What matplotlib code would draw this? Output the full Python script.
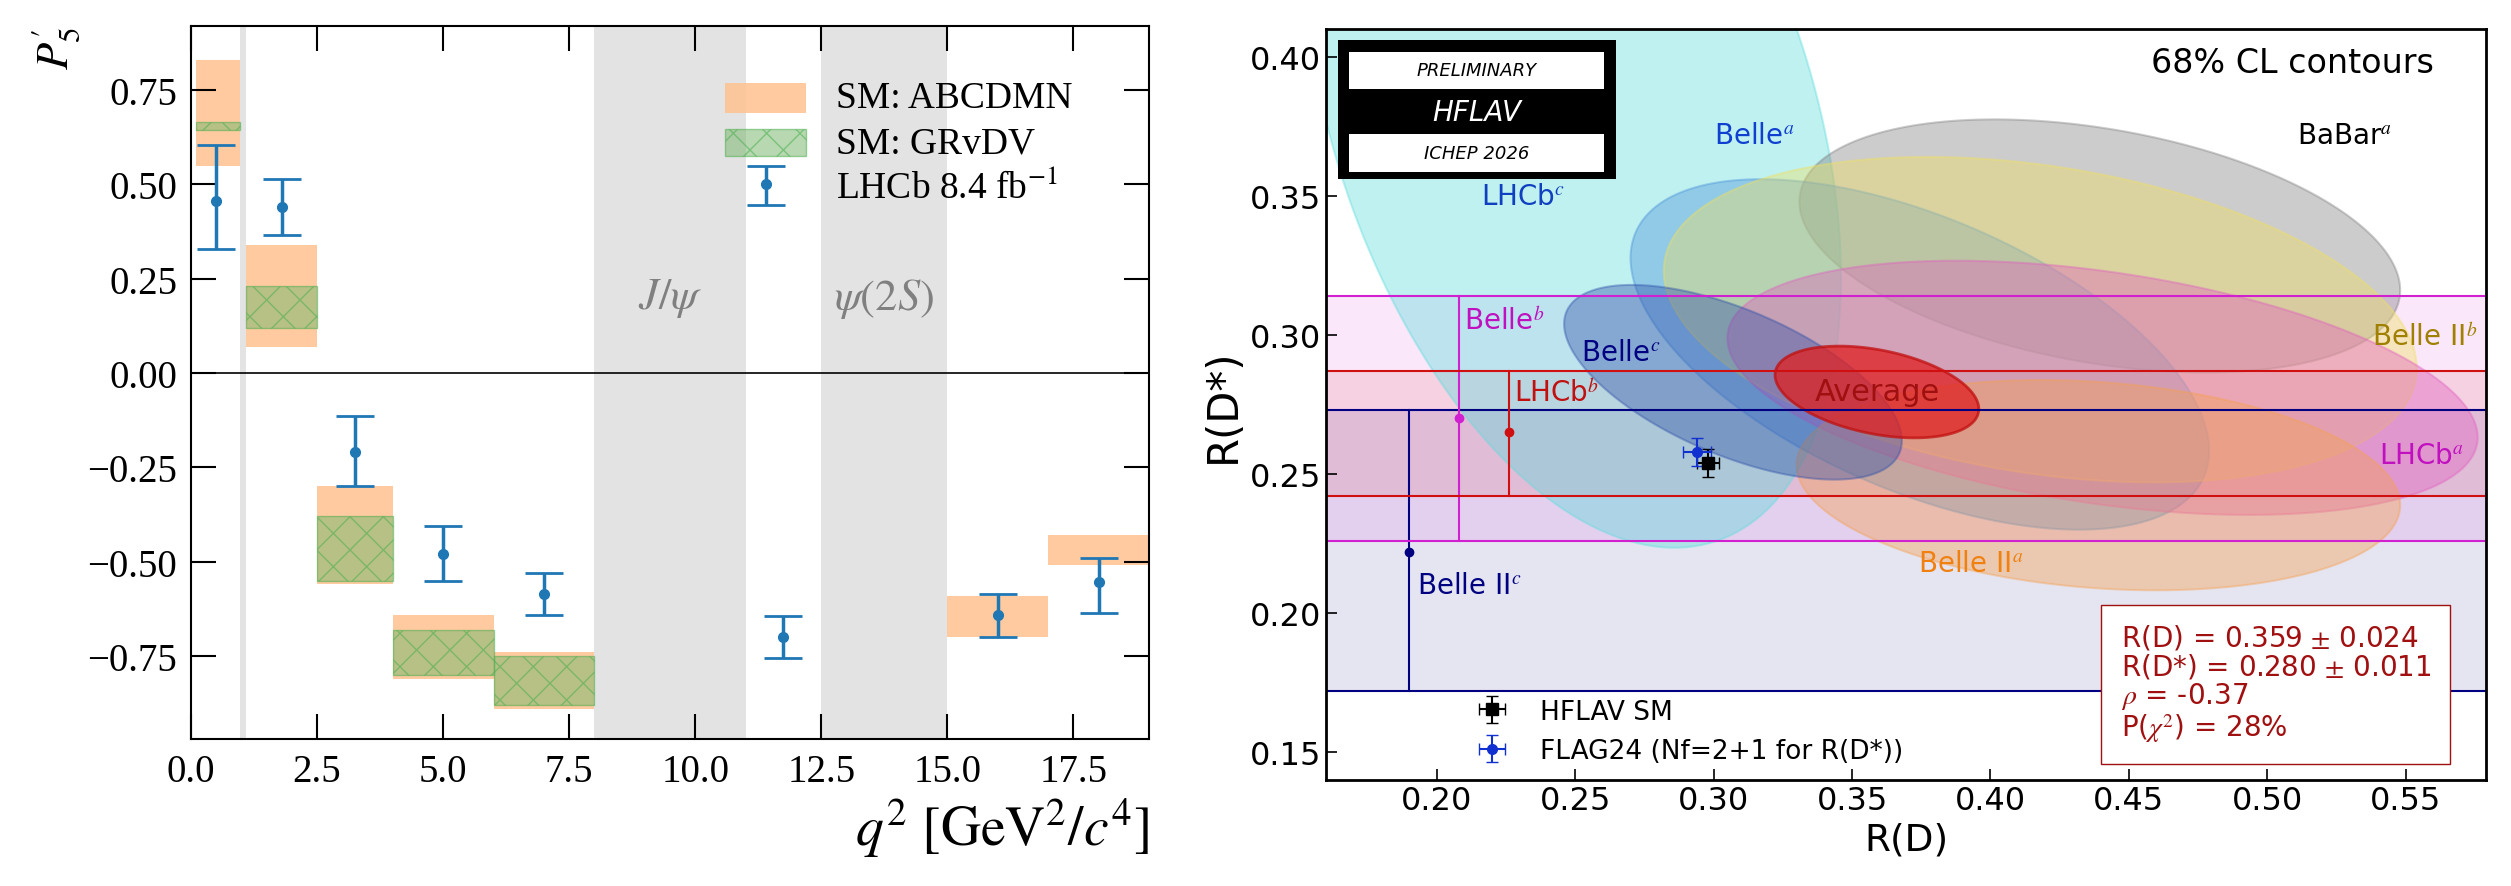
import numpy as np
import matplotlib
matplotlib.use("Agg")
import matplotlib.pyplot as plt
from matplotlib.patches import Rectangle, Polygon

plt.rcParams["mathtext.fontset"] = "stix"

# ---- left panel data: P5' vs q2 ----
abcdmn_bins = [(0.1, 0.98), (1.1, 2.5), (2.5, 4.0), (4.0, 6.0), (6.0, 8.0), (15.0, 17.0), (17.0, 19.0)]
abcdmn_lo = [0.55, 0.07, -0.56, -0.81, -0.89, -0.70, -0.51]
abcdmn_hi = [0.83, 0.34, -0.30, -0.64, -0.74, -0.59, -0.43]
grvdv_bins = [(0.1, 0.98), (1.1, 2.5), (2.5, 4.0), (4.0, 6.0), (6.0, 8.0)]
grvdv_lo = [0.645, 0.12, -0.55, -0.80, -0.88]
grvdv_hi = [0.665, 0.23, -0.38, -0.68, -0.75]
lhcb_q2 = [0.5, 1.8, 3.25, 5.0, 7.0, 11.75, 16.0, 18.0]
lhcb_p5 = [0.455, 0.44, -0.21, -0.48, -0.585, -0.70, -0.64, -0.555]
lhcb_up = [0.15, 0.075, 0.095, 0.075, 0.055, 0.055, 0.055, 0.065]
lhcb_dn = [0.125, 0.075, 0.09, 0.07, 0.055, 0.055, 0.06, 0.08]
veto_bands = [(0.98, 1.1), (8.0, 11.0), (12.5, 15.0)]

# ---- right panel data: R(D) vs R(D*) ----
# name, cx, sx, cy, sy, rho, colour
ellipses = [
    ("LHCb$^c$", 0.249, 0.097, 0.380, 0.1565, -0.38, "#5fdcdc"),
    ("BaBar$^a$", 0.4395, 0.1085, 0.332, 0.0455, -0.35, "#808080"),
    ("Belle$^a$", 0.3745, 0.1045, 0.293, 0.063, -0.55, "#4a90d9"),
    ("Belle II$^b$", 0.418, 0.136, 0.3055, 0.0585, -0.30, "#f0e060"),
    ("LHCb$^a$", 0.4405, 0.1355, 0.281, 0.0457, -0.39, "#e060c0"),
    ("Belle II$^a$", 0.439, 0.109, 0.246, 0.0378, -0.19, "#f5a050"),
    ("Belle$^c$", 0.307, 0.061, 0.283, 0.035, -0.60, "#3050a8"),
]
avg = (0.359, 0.0368, 0.2795, 0.0165, -0.37)
bands = [  # name, x, central, lo, hi, colour
    ("Belle II$^c$", 0.190, 0.222, 0.172, 0.273, "#000080"),
    ("Belle$^b$", 0.208, 0.270, 0.226, 0.314, "#d020d0"),
    ("LHCb$^b$", 0.226, 0.265, 0.242, 0.287, "#d01010"),
]
sm_point = (0.298, 0.254, 0.004, 0.005)
flag_point = (0.294, 0.258, 0.005, 0.005)


def ellipse_xy(cx, sx, cy, sy, rho, n=200):
    t = np.linspace(0, 2 * np.pi, n)
    x = cx + sx * np.cos(t)
    y = cy + sy * (rho * np.cos(t) + np.sqrt(1 - rho ** 2) * np.sin(t))
    return np.column_stack([x, y])


fig = plt.figure(figsize=(25.11, 8.87), dpi=100)

# ================= left =================
serif = "Liberation Serif"
ax = fig.add_axes([191 / 2511, 1 - 740 / 887, 958 / 2511, 713 / 887])
for a, b in veto_bands:
    ax.axvspan(a, b, color="#e3e3e3", lw=0)
for (a, b), lo, hi in zip(abcdmn_bins, abcdmn_lo, abcdmn_hi):
    ax.add_patch(Rectangle((a, lo), b - a, hi - lo, color="#ffc18f", alpha=0.85, lw=0))
for (a, b), lo, hi in zip(grvdv_bins, grvdv_lo, grvdv_hi):
    ax.add_patch(Rectangle((a, lo), b - a, hi - lo, facecolor="#7cb870", alpha=0.55,
                           edgecolor="#4caf50", hatch="x", lw=1))
ax.axhline(0, color="black", lw=1.2)
ax.errorbar(lhcb_q2, lhcb_p5, yerr=[lhcb_dn, lhcb_up], fmt="o", color="#1f77b4",
            ms=7, capsize=14, elinewidth=2.5, capthick=2)
ax.text(9.5, 0.2, r"$J/\psi$", color="gray", fontsize=32, ha="center", va="center")
ax.text(13.75, 0.2, r"$\psi(2S)$", color="gray", fontsize=32, ha="center", va="center")
# legend drawn by hand
ax.add_patch(Rectangle((10.6, 0.69), 1.6, 0.078, color="#ffc18f", alpha=0.85, lw=0))
ax.add_patch(Rectangle((10.6, 0.575), 1.6, 0.073, facecolor="#7cb870", alpha=0.55,
                       edgecolor="#4caf50", hatch="x", lw=1))
ax.errorbar([11.4], [0.50], yerr=[[0.055], [0.05]], fmt="o", color="#1f77b4",
            ms=7, capsize=14, elinewidth=2.5, capthick=2)
ax.text(12.8, 0.73, "SM: ABCDMN", fontsize=27, family=serif, va="center")
ax.text(12.8, 0.61, "SM: GRvDV", fontsize=27, family=serif, va="center")
ax.text(12.8, 0.49, r"LHCb 8.4 fb$^{-1}$", fontsize=27, family=serif, va="center")
ax.set_xlim(0, 19)
ax.set_ylim(-0.97, 0.92)
ax.set_xticks([0, 2.5, 5, 7.5, 10, 12.5, 15, 17.5])
ax.set_xticklabels(["0.0", "2.5", "5.0", "7.5", "10.0", "12.5", "15.0", "17.5"])
ax.set_yticks([-0.75, -0.5, -0.25, 0, 0.25, 0.5, 0.75])
ax.set_yticklabels(["\u22120.75", "\u22120.50", "\u22120.25", "0.00", "0.25", "0.50", "0.75"])
ax.tick_params(direction="in", length=18, width=1.5, top=True, right=True, labelsize=28, pad=10)
for lab in ax.get_xticklabels() + ax.get_yticklabels():
    lab.set_family(serif)
for s in ax.spines.values():
    s.set_linewidth(1.5)
ax.set_xlabel(r"$q^2\ [\mathrm{GeV}^2/c^4]$", fontsize=40, loc="right")
ax.set_ylabel(r"$\boldsymbol{P_5'}$", fontsize=32, loc="top")

# ================= right =================
bx = fig.add_axes([1326 / 2511, 1 - 781 / 887, 1160 / 2511, 751 / 887])
for name, x, c, lo, hi, col in bands:
    bx.axhspan(lo, hi, color=col, alpha=0.1, lw=0)
    bx.axhline(lo, color=col, lw=1.5)
    bx.axhline(hi, color=col, lw=1.5)
    bx.plot([x, x], [lo, hi], color=col, lw=1.5)
    bx.plot(x, c, "o", color=col, ms=6)
for name, cx, sx, cy, sy, rho, col in ellipses:
    bx.add_patch(Polygon(ellipse_xy(cx, sx, cy, sy, rho), closed=True, facecolor=col,
                         alpha=0.4, edgecolor=col, lw=1.5))
bx.add_patch(Polygon(ellipse_xy(*avg), closed=True, facecolor="#e02020", alpha=0.75,
                     edgecolor="#c01010", lw=2))
bx.text(0.359, 0.2795, "Average", color="#a01010", fontsize=22, ha="center", va="center")

bx.errorbar([sm_point[0]], [sm_point[1]], xerr=[sm_point[2]], yerr=[sm_point[3]], fmt="s",
            color="black", ms=8, capsize=4, elinewidth=1.5, label="HFLAV SM")
bx.errorbar([flag_point[0]], [flag_point[1]], xerr=[flag_point[2]], yerr=[flag_point[3]], fmt="o",
            color="#1030d0", ms=7, capsize=4, elinewidth=1.5, label="FLAG24 (Nf=2+1 for R(D*))")
bx.legend(loc="lower left", bbox_to_anchor=(0.1, -0.01), frameon=False, fontsize=19)

labels = [
    ("LHCb$^c$", 0.216, 0.350, "#1040c0"),
    ("Belle$^a$", 0.300, 0.372, "#1040d0"),
    ("BaBar$^a$", 0.545, 0.372, "black"),
    ("Belle$^b$", 0.210, 0.305, "#c010c0"),
    ("Belle$^c$", 0.252, 0.294, "#000080"),
    ("LHCb$^b$", 0.228, 0.279, "#c01010"),
    ("Belle II$^b$", 0.576, 0.299, "#a08000"),
    ("LHCb$^a$", 0.571, 0.257, "#c010c0"),
    ("Belle II$^a$", 0.374, 0.218, "#f08010"),
    ("Belle II$^c$", 0.193, 0.210, "#000080"),
]
for txt, x, y, col in labels:
    bx.text(x, y, txt, color=col, fontsize=20, va="center",
            ha="right" if x > 0.5 else "left")
bx.text(0.955, 0.955, "68% CL contours", transform=bx.transAxes, fontsize=24, ha="right", va="center")
# logo
bx.add_patch(Rectangle((0.01, 0.80), 0.24, 0.185, transform=bx.transAxes, facecolor="black", zorder=5))
bx.add_patch(Rectangle((0.02, 0.92), 0.22, 0.05, transform=bx.transAxes, facecolor="white", zorder=6))
bx.add_patch(Rectangle((0.02, 0.81), 0.22, 0.05, transform=bx.transAxes, facecolor="white", zorder=6))
bx.text(0.13, 0.945, "PRELIMINARY", transform=bx.transAxes, fontsize=13, style="italic",
        ha="center", va="center", zorder=7)
bx.text(0.13, 0.89, "HFLAV", transform=bx.transAxes, fontsize=20, style="italic", color="white",
        ha="center", va="center", zorder=7)
bx.text(0.13, 0.835, "ICHEP 2026", transform=bx.transAxes, fontsize=13, style="italic",
        ha="center", va="center", zorder=7)
bx.text(0.685, 0.21, "R(D) = 0.359 $\\pm$ 0.024\nR(D*) = 0.280 $\\pm$ 0.011\n"
        "$\\rho$ = -0.37\nP($\\chi^2$) = 28%", transform=bx.transAxes, fontsize=20,
        color="#a01010", va="top", linespacing=1.0,
        bbox=dict(boxstyle="square,pad=0.7", facecolor="white", edgecolor="#a01010"))

bx.set_xlim(0.160, 0.579)
bx.set_ylim(0.140, 0.410)
bx.set_xticks(np.arange(0.20, 0.551, 0.05))
bx.set_yticks(np.arange(0.15, 0.401, 0.05))
bx.xaxis.set_major_formatter(matplotlib.ticker.FormatStrFormatter("%.2f"))
bx.yaxis.set_major_formatter(matplotlib.ticker.FormatStrFormatter("%.2f"))
bx.tick_params(direction="in", length=8, width=1.2, labelsize=23)
for s in bx.spines.values():
    s.set_linewidth(2)
bx.set_xlabel("R(D)", fontsize=27)
bx.set_ylabel("R(D*)", fontsize=30)

fig.savefig("out.png", dpi=100)
